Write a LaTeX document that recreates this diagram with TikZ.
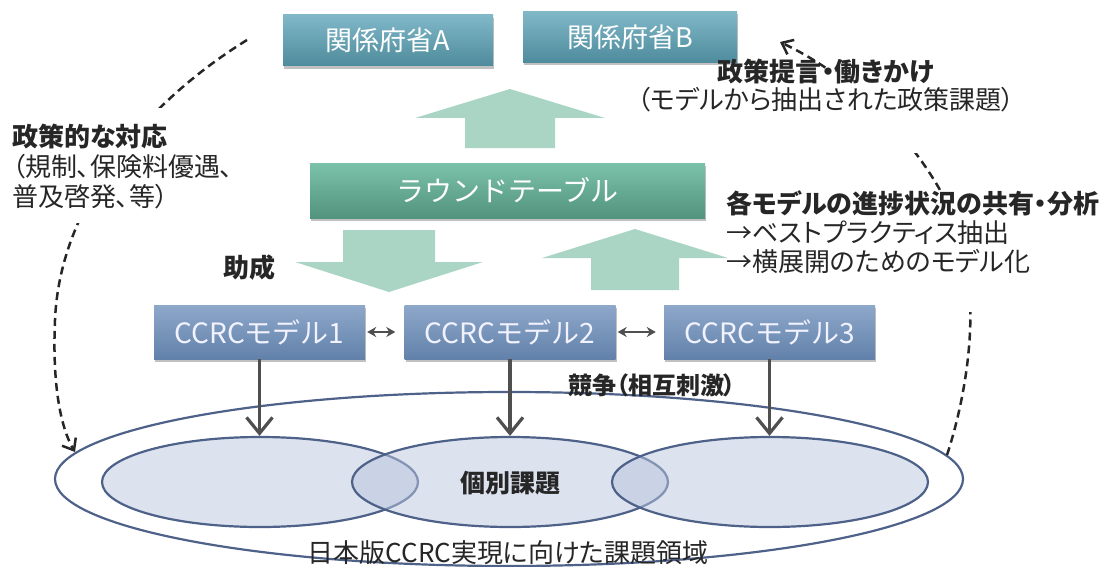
\documentclass[tikz,border=0pt]{standalone}
\usepackage{fontspec}
\newfontfamily\jpp[RawFeature=+palt]{Noto Sans CJK JP}
\newfontfamily\jpn{Noto Sans CJK JP}
\usetikzlibrary{arrows.meta,shadows,shapes.geometric}
\definecolor{govTop}{HTML}{80B8C8}
\definecolor{govBot}{HTML}{4E8B9C}
\definecolor{rtTop}{HTML}{7CC2AA}
\definecolor{rtBot}{HTML}{52937E}
\definecolor{mdTop}{HTML}{8EA8CA}
\definecolor{mdBot}{HTML}{6281AA}
\definecolor{bigArr}{HTML}{AAD5C5}
\definecolor{ellLine}{HTML}{4D6189}
\definecolor{ellFill}{HTML}{B9C5DD}
\definecolor{txt}{HTML}{262626}
\definecolor{arrGray}{HTML}{4F4F4F}
\begin{document}
\begin{tikzpicture}[x=1pt,y=-1pt,
  boxshadow/.style={drop shadow={shadow xshift=1pt,shadow yshift=-3pt,opacity=0.35,fill=black!70}},
  govbox/.style={rectangle,inner sep=0pt,minimum height=51pt,top color=govTop,bottom color=govBot,
    text=white,font=\jpp\fontsize{27}{30}\selectfont,boxshadow},
  rtbox/.style={rectangle,inner sep=0pt,minimum width=395pt,minimum height=55pt,top color=rtTop,bottom color=rtBot,
    text=white,font=\jpn\fontsize{28}{30}\selectfont,boxshadow},
  modelbox/.style={rectangle,inner sep=0pt,minimum width=211pt,minimum height=54pt,top color=mdTop,bottom color=mdBot,
    text=white!95!blue,font=\jpn\fontsize{28}{30}\selectfont,boxshadow},
  bigarrow/.style={fill=bigArr},
  outerell/.style={ellipse,draw=ellLine,line width=2.2pt,inner sep=0pt,minimum width=908pt,minimum height=174pt},
  smallell/.style={ellipse,draw=ellLine,line width=2.2pt,fill=ellFill,fill opacity=0.5,inner sep=0pt,minimum width=316pt,minimum height=90pt},
  lbl/.style={text=txt,inner sep=0pt,font=\jpp\fontsize{26}{30}\selectfont},
  downarrow/.style={draw=arrGray,line width=3.2pt,-{Straight Barb[length=16pt,width=26pt,line width=3.2pt]}},
  duo/.style={draw=arrGray,line width=2pt,{Stealth[length=9pt,width=10pt]}-{Stealth[length=9pt,width=10pt]}},
  dasharrow/.style={draw=txt,line width=2.5pt,dash pattern=on 8pt off 5pt,-{Straight Barb[length=10pt,width=16pt,line width=2.5pt]}}
]
\useasboundingbox (0,0) rectangle (1110,567);

% big block arrows
\fill[bigarrow] (465,148) -- (465,118) -- (415,118) -- (510,89) -- (605,118) -- (555,118) -- (555,148) -- cycle;
\fill[bigarrow] (343,230) -- (343,262) -- (295,262) -- (389,292) -- (483,262) -- (435,262) -- (435,230) -- cycle;
\fill[bigarrow] (591,290) -- (591,258) -- (542,258) -- (635,229) -- (728,258) -- (679,258) -- (679,290) -- cycle;

% boxes
\node[govbox,minimum width=210pt] (govA) at (388,40.5) {関係府省A};
\node[govbox,minimum width=214pt] (govB) at (630,37) {関係府省B};
\node[rtbox] (rt) at (507.5,190.5) {ラウンドテーブル};
\node[modelbox] (m1) at (259.5,332) {CCRCモデル1};
\node[modelbox] (m2) at (510,332) {CCRCモデル2};
\node[modelbox] (m3) at (769.5,332) {CCRCモデル3};

% ellipses
\node[outerell] (outer) at (509,479) {};
\node[smallell] (e1) at (260,482) {};
\node[smallell] (e2) at (510,482) {};
\node[smallell] (e3) at (770,482) {};

% arrows between models
\draw[duo,shorten <=2pt,shorten >=9pt] (m1.east) -- (m2.west);
\draw[duo,shorten <=2pt,shorten >=8pt] (m2.east) -- (m3.west);

% down arrows
\draw[downarrow] (m1.south) -- (m1.south |- e1.north);
\draw[downarrow] (m2.south) -- (m2.south |- e2.north);
\draw[downarrow] (m3.south) -- (m3.south |- e3.north);

% labels
\node[lbl,font=\jpp\bfseries\fontsize{25}{30}\selectfont] (kobetsu) at (510,483) {個別課題};
\node[lbl] (area) at (508,553) {日本版CCRC実現に向けた課題領域};
\node[lbl,font=\jpp\bfseries\fontsize{24}{30}\selectfont] (kyoso) at (652,385) {競争（相互刺激）};
\node[lbl,font=\jpp\bfseries\fontsize{26}{30}\selectfont] (josei) at (249,268) {助成};
\node[lbl,align=left,anchor=north west] (seisaku) at (12,124)
  {{\bfseries 政策的な対応}\\（規制、保険料優遇、\\普及啓発、等）};
\node[lbl,align=center,anchor=north,font=\jpp\fontsize{26}{28}\selectfont] (teigen) at (826,59)
  {{\bfseries 政策提言・働きかけ}\\（モデルから抽出された政策課題）};
\node[lbl,align=left,anchor=north west,font=\jpp\fontsize{26}{29}\selectfont] (share) at (726,190)
  {{\bfseries 各モデルの進捗状況の共有・分析}\\→ベストプラクティス抽出\\→横展開のためのモデル化};

% dashed curves
\coordinate (lstart) at (247,40);
\coordinate (lend) at (75,452);
\begin{scope}
  \clip (0,0) rectangle (300,108) (0,223) rectangle (300,567);
  \draw[dasharrow] (lstart) .. controls (150,100) and (60,200) .. (55,320) .. controls (52,390) and (62,430) .. (lend);
\end{scope}
\coordinate (rstart) at (947,455);
\coordinate (rend) at (780,42);
\begin{scope}
  \clip (700,0) rectangle (1110,70) (700,153) rectangle (1110,193) (700,312) rectangle (1110,567);
  \draw[dasharrow] (rstart) .. controls (965,400) and (985,300) .. (955,220) .. controls (925,150) and (860,80) .. (rend);
\end{scope}
\end{tikzpicture}
\end{document}
